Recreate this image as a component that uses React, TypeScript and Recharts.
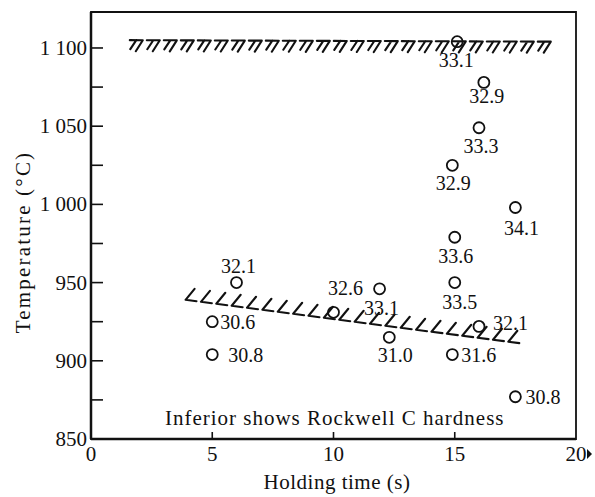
import React from 'react';
import {
  ComposedChart,
  Scatter,
  XAxis,
  YAxis,
  ReferenceLine,
  ReferenceArea,
  ReferenceDot,
} from 'recharts';

// Holding time (s), temperature (°C) and Rockwell C hardness of each specimen
const holdingTime = [6, 5, 5, 10, 11.9, 12.3, 14.9, 16, 17.5, 15, 15, 17.5, 14.9, 16, 16.2, 15.1];
const temperature = [950, 925, 904, 931, 946, 915, 904, 922, 877, 950, 979, 998, 1025, 1049, 1078, 1104];
const hardness = [
  '32.1', '30.6', '30.8', '32.6', '33.1', '31.0', '31.6', '32.1',
  '30.8', '33.5', '33.6', '34.1', '32.9', '33.3', '32.9', '33.1',
];

const xTicks = [0, 5, 10, 15, 20];
const yTicks = [850, 875, 900, 925, 950, 975, 1000, 1025, 1050, 1075, 1100];
const xDomain = [0, 20];
const yDomain = [850, 1123];

// Boundary lines (upper and lower limits of the hardening range)
const upperBoundary = [{ x: 1.6, y: 1105 }, { x: 19.5, y: 1104 }];
const lowerBoundary = [{ x: 3.9, y: 939 }, { x: 17.8, y: 911 }];

const noteText = 'Inferior shows Rockwell C hardness';
const noteAt = { x: 10.05, y: 859 };

const rows = holdingTime.map((t, i) => ({ t, temp: temperature[i], hrc: hardness[i], i }));

const FONT = '"Liberation Serif", "Times New Roman", serif';
const INK = '#111';

// [text-anchor, dx, dy] of each hardness label relative to its marker
const LABEL_PLACE: Array<['start' | 'middle' | 'end', number, number]> = [
  ['middle', 2, -10],
  ['start', 8, 7],
  ['start', 16, 7],
  ['middle', 12, -17],
  ['middle', 2, 26],
  ['middle', 6, 25],
  ['start', 9, 7],
  ['start', 14, 4],
  ['start', 10, 7],
  ['middle', 5, 26],
  ['middle', 1, 26],
  ['middle', 6, 27],
  ['middle', 1, 25],
  ['middle', 2, 25],
  ['middle', 3, 21],
  ['middle', -1, 25],
];

const HardnessPoint = (props: any) => {
  const { cx, cy, payload } = props;
  if (cx == null || cy == null) return null;
  const [anchor, dx, dy] = LABEL_PLACE[payload.i] || ['middle', 0, 25];
  return (
    <g>
      <circle cx={cx} cy={cy} r={5.5} fill="none" stroke={INK} strokeWidth={1.8} />
      <text
        x={cx + dx}
        y={cy + dy}
        textAnchor={anchor}
        fontFamily={FONT}
        fontSize={20}
        fill={INK}
      >
        {payload.hrc}
      </text>
    </g>
  );
};

// Upper limit: a row of "7" shaped hatch marks
const UpperHatch = (props: any) => {
  const { x1, y1, x2, y2 } = props;
  if ([x1, y1, x2, y2].some((v) => v == null || isNaN(v))) return null;
  const L = Math.hypot(x2 - x1, y2 - y1);
  const ux = (x2 - x1) / L;
  const uy = (y2 - y1) / L;
  const period = 17;
  const paths: string[] = [];
  for (let s = 0; s + 12 <= L; s += period) {
    const bx = x1 + ux * s;
    const by = y1 + uy * s;
    const ex = bx + ux * 13;
    const ey = by + uy * 13;
    paths.push(`M${bx},${by}L${ex},${ey}L${ex - 7},${ey + 11}`);
    const mx = bx + ux * 6.5;
    const my = by + uy * 6.5;
    paths.push(`M${mx},${my}L${mx - 6},${my + 9}`);
  }
  return (
    <path d={paths.join('')} fill="none" stroke={INK} strokeWidth={2.1} strokeLinecap="round" strokeLinejoin="round" />
  );
};

// Lower limit: a row of "∠" shaped hatch marks
const LowerHatch = (props: any) => {
  const { x1, y1, x2, y2 } = props;
  if ([x1, y1, x2, y2].some((v) => v == null || isNaN(v))) return null;
  const L = Math.hypot(x2 - x1, y2 - y1);
  const ux = (x2 - x1) / L;
  const uy = (y2 - y1) / L;
  const period = 15.5;
  const paths: string[] = [];
  for (let s = 0; s + 10 <= L; s += period) {
    const vx = x1 + ux * s;
    const vy = y1 + uy * s;
    paths.push(`M${vx + 9},${vy - 11}L${vx},${vy}L${vx + ux * 11},${vy + uy * 11}`);
  }
  return (
    <path d={paths.join('')} fill="none" stroke={INK} strokeWidth={2.1} strokeLinecap="round" strokeLinejoin="round" />
  );
};

const Y_TICK_MARGIN = 4;
const YTick = (props: any) => {
  const { x, y, payload } = props;
  const v = payload.value as number;
  const axisX = x + Y_TICK_MARGIN;
  const label = v % 50 === 0 ? (v >= 1000 ? `${Math.floor(v / 1000)} ${String(v % 1000).padStart(3, '0')}` : String(v)) : '';
  return (
    <g>
      <line x1={axisX} y1={y} x2={axisX + 12} y2={y} stroke={INK} strokeWidth={1.6} />
      {label && (
        <text x={x} y={y + 7} textAnchor="end" fontFamily={FONT} fontSize={21} fill={INK}>
          {label}
        </text>
      )}
    </g>
  );
};

const XTick = (props: any) => {
  const { x, y, payload } = props;
  const v = payload.value as number;
  return (
    <g>
      {v > 0 && v < 20 && <line x1={x} y1={y} x2={x} y2={y - 7} stroke={INK} strokeWidth={1.6} />}
      <text x={x} y={y + 22} textAnchor="middle" fontFamily={FONT} fontSize={21} fill={INK}>
        {v}
      </text>
      {v === 20 && <path d={`M${x + 11},${y + 10}L${x + 16},${y + 15}L${x + 11},${y + 20}Z`} fill={INK} />}
    </g>
  );
};

export default function App() {
  return (
    <div style={{ position: 'absolute', left: 0, top: 0, background: '#fff' }}>
      <ComposedChart
        width={595}
        height={497}
        data={rows}
        margin={{ top: 12, right: 19, left: 0, bottom: 0 }}
      >
        <ReferenceArea
          x1={xDomain[0]}
          x2={xDomain[1]}
          y1={yDomain[0]}
          y2={yDomain[1]}
          fill="none"
          stroke={INK}
          strokeWidth={1.8}
          fillOpacity={0}
          ifOverflow="visible"
        />
        <XAxis
          type="number"
          dataKey="t"
          domain={xDomain}
          ticks={xTicks}
          allowDataOverflow
          height={58}
          tickSize={0}
          tickMargin={0}
          tickLine={false}
          axisLine={{ stroke: INK, strokeWidth: 2.5 }}
          tick={<XTick />}
          interval={0}
          label={{
            content: () => (
              <text x={337} y={489} textAnchor="middle" fontFamily={FONT} fontSize={21} letterSpacing={0.5} fill={INK}>
                Holding time (s)
              </text>
            ),
          }}
        />
        <YAxis
          type="number"
          dataKey="temp"
          domain={yDomain}
          ticks={yTicks}
          allowDataOverflow
          width={91}
          tickSize={0}
          tickMargin={Y_TICK_MARGIN}
          tickLine={false}
          axisLine={{ stroke: INK, strokeWidth: 2.5 }}
          tick={<YTick />}
          interval={0}
          label={{
            content: () => (
              <text
                x={30}
                y={242}
                transform="rotate(-90 30 242)"
                textAnchor="middle"
                fontFamily={FONT}
                fontSize={21}
                letterSpacing={2.2}
                fill={INK}
              >
                Temperature (°C)
              </text>
            ),
          }}
        />
        <ReferenceLine segment={upperBoundary} stroke={INK} shape={(p: any) => <UpperHatch {...p} />} />
        <ReferenceLine segment={lowerBoundary} stroke={INK} shape={(p: any) => <LowerHatch {...p} />} />
        <ReferenceDot
          x={noteAt.x}
          y={noteAt.y}
          r={0}
          fill="none"
          stroke="none"
          label={{
            content: (p: any) => {
              const vb = p.viewBox || {};
              const cx = (vb.x ?? 0) + (vb.width ?? 0) / 2;
              const cy = (vb.y ?? 0) + (vb.height ?? 0) / 2;
              return (
                <text x={cx} y={cy} textAnchor="middle" fontFamily={FONT} fontSize={21} letterSpacing={1} fill={INK}>
                  {noteText}
                </text>
              );
            },
          }}
        />
        <Scatter dataKey="temp" isAnimationActive={false} shape={<HardnessPoint />} />
      </ComposedChart>
    </div>
  );
}
